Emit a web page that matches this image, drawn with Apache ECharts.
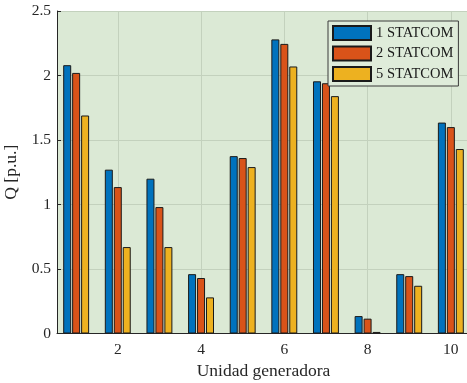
<!DOCTYPE html>
<html><head><meta charset="utf-8">
<script src="https://cdn.jsdelivr.net/npm/echarts@6/dist/echarts.min.js"></script>
<style>html,body{margin:0;padding:0;background:#fff}#c{width:467px;height:383px}</style>
</head><body><div id="c"></div>
<script>
const units = [1,2,3,4,5,6,7,8,9,10];
const s1 = [2.08, 1.27, 1.20, 0.46, 1.375, 2.28, 1.955, 0.135, 0.46, 1.635];
const s2 = [2.02, 1.135, 0.98, 0.43, 1.36, 2.245, 1.94, 0.115, 0.445, 1.60];
const s3 = [1.69, 0.67, 0.67, 0.28, 1.29, 2.07, 1.84, 0.012, 0.37, 1.43];
const seriesNames = ['1 STATCOM','2 STATCOM','5 STATCOM'];
const xTicks = [2,4,6,8,10];
const yTicks = [0,0.5,1,1.5,2,2.5];

const colors = ['#0072BD','#D95319','#EDB120'];
const font = '"Liberation Serif","Times New Roman",serif';
const gridCol = '#c3d1bd';
const axisCol = '#262626';

const chart = echarts.init(document.getElementById('c'), null, {renderer:'canvas'});
const mk = (name, vals, i) => ({
  name, type:'bar', barWidth:8, barGap:'12%',
  data: units.map((u,k)=>[u, vals[k]]),
  itemStyle:{color:colors[i], borderColor:'#1a1a1a', borderWidth:1}
});
chart.setOption({
  animation:false,
  backgroundColor:'#ffffff',
  grid:{left:57, right:-3, top:11, bottom:49.5, show:true, backgroundColor:'#dbe9d5', borderWidth:0,
        containLabel:false, outerBoundsMode:'none'},
  legend:{
    orient:'vertical', left:328, top:21, padding:[4,5,4,4],
    icon:'rect',
    itemWidth:38, itemHeight:14, itemGap:4.5, itemTextGap:3.5,
    backgroundColor:'#dfecda', borderColor:'#3a3a3a', borderWidth:1,
    textStyle:{fontFamily:font, fontSize:14.5, color:'#1a1a1a', lineHeight:14},
    data: seriesNames
  },
  xAxis:{
    type:'value', min:0.54, max:10.46,
    name:'Unidad generadora', nameLocation:'middle', nameGap:27,
    nameTextStyle:{fontFamily:font, fontSize:17.5, color:'#262626'},
    axisLine:{show:true, onZero:false, lineStyle:{color:axisCol, width:1}},
    axisTick:{show:true, inside:true, length:4, customValues:xTicks, lineStyle:{color:axisCol}},
    axisLabel:{customValues:xTicks, fontFamily:font, fontSize:15.5, color:'#262626', margin:8},
    splitLine:{show:true, lineStyle:{color:gridCol, width:1}}
  },
  yAxis:{
    type:'value', min:0, max:2.5, interval:0.5,
    name:'Q [p.u.]', nameLocation:'middle', nameGap:31,
    nameTextStyle:{fontFamily:font, fontSize:17.5, color:'#262626'},
    axisLine:{show:true, lineStyle:{color:axisCol, width:1}},
    axisTick:{show:true, inside:true, length:4, lineStyle:{color:axisCol}},
    axisLabel:{fontFamily:font, fontSize:15.5, color:'#262626', margin:6,
      formatter:v=>String(v)},
    splitLine:{show:true, lineStyle:{color:gridCol, width:1}}
  },
  series:[mk(seriesNames[0], s1, 0), mk(seriesNames[1], s2, 1), mk(seriesNames[2], s3, 2)]
});
</script></body></html>
